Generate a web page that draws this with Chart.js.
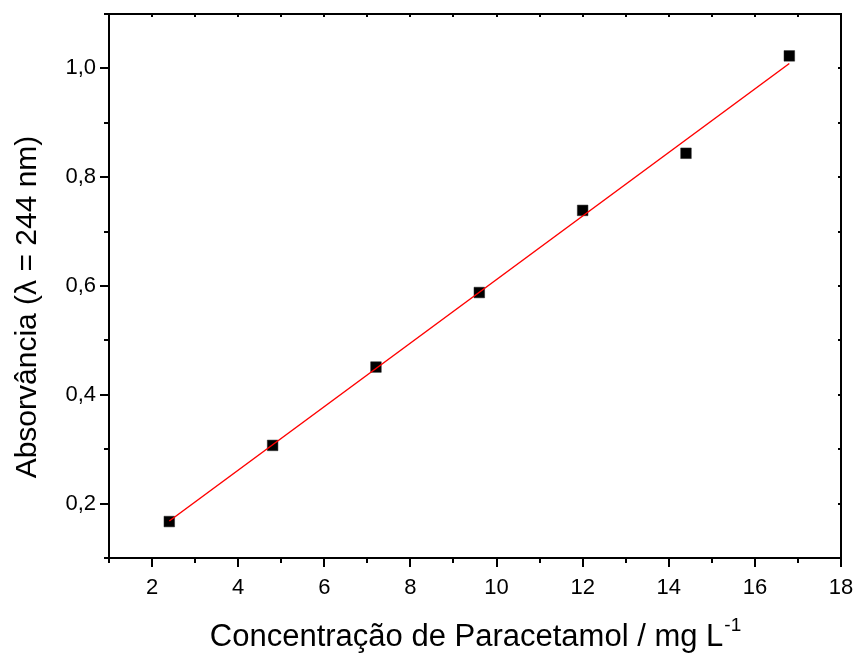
<!DOCTYPE html>
<html>
<head>
<meta charset="utf-8">
<script src="https://cdn.jsdelivr.net/npm/chart.js@4.4.1/dist/chart.umd.min.js"></script>
<style>
  html, body { margin: 0; padding: 0; background: #fff; }
  canvas { display: block; }
</style>
</head>
<body>
<canvas id="grafico" width="857" height="654"></canvas>
<script>
// Curva analítica do paracetamol: absorvância medida em 244 nm
const concentracao = [2.4, 4.8, 7.2, 9.6, 12.0, 14.4, 16.8];
const absorvancia = [0.167, 0.307, 0.451, 0.588, 0.739, 0.844, 1.023];

// Reta de regressão linear (extremos)
const ajusteX = [2.4, 16.8];
const ajusteY = [0.168, 1.009];

// Marcas dos eixos
const xTicks = [2, 4, 6, 8, 10, 12, 14, 16, 18];
const xMinor = [1, 3, 5, 7, 9, 11, 13, 15, 17];
const yTicks = [0.2, 0.4, 0.6, 0.8, 1.0];
const yMinor = [0.1, 0.3, 0.5, 0.7, 0.9, 1.1];

const FONT = '"Liberation Sans", Arial, sans-serif';

// Moldura, marcas principais/secundárias e títulos dos eixos
const molduraPlugin = {
  id: 'moldura',
  afterDraw(chart) {
    const ctx = chart.ctx;
    const { left, right, top, bottom } = chart.chartArea;
    const sx = chart.scales.x, sy = chart.scales.y;
    ctx.save();
    ctx.strokeStyle = '#000';
    ctx.lineWidth = 2;
    ctx.lineCap = 'butt';

    ctx.beginPath();
    ctx.rect(left, top, right - left, bottom - top);
    ctx.stroke();

    const seg = (x1, y1, x2, y2) => { ctx.moveTo(x1, y1); ctx.lineTo(x2, y2); };
    ctx.beginPath();
    xTicks.forEach(v => {
      const px = Math.round(sx.getPixelForValue(v));
      seg(px, bottom, px, bottom + 9);
      seg(px, top, px, top + 3);
    });
    xMinor.forEach(v => {
      const px = Math.round(sx.getPixelForValue(v));
      seg(px, bottom, px, bottom + 5);
      seg(px, top, px, top + 3);
    });
    yTicks.forEach(v => {
      const py = Math.round(sy.getPixelForValue(v));
      seg(left - 9, py, left, py);
      seg(right - 3, py, right, py);
    });
    yMinor.forEach(v => {
      const py = Math.round(sy.getPixelForValue(v));
      seg(left - 5, py, left, py);
      seg(right - 3, py, right, py);
    });
    ctx.stroke();

    ctx.fillStyle = '#000';
    // Título do eixo X com expoente
    const base = 'Concentração de Paracetamol / mg L';
    ctx.font = '31px ' + FONT;
    const wBase = ctx.measureText(base).width;
    ctx.font = '19px ' + FONT;
    const wSup = ctx.measureText('-1').width;
    const cx = (left + right) / 2;
    const x0 = cx - (wBase + wSup) / 2;
    ctx.textBaseline = 'alphabetic';
    ctx.textAlign = 'left';
    ctx.font = '31px ' + FONT;
    ctx.fillText(base, x0, 646);
    ctx.font = '19px ' + FONT;
    ctx.fillText('-1', x0 + wBase + 1, 631);

    // Título do eixo Y
    ctx.translate(36, 307);
    ctx.rotate(-Math.PI / 2);
    ctx.font = '30px ' + FONT;
    ctx.textAlign = 'center';
    ctx.fillText('Absorvância (λ = 244 nm)', 0, 0);
    ctx.restore();
  }
};

new Chart(document.getElementById('grafico'), {
  type: 'scatter',
  data: {
    datasets: [
      {
        type: 'line',
        label: 'Ajuste linear',
        data: ajusteX.map((x, i) => ({ x, y: ajusteY[i] })),
        borderColor: '#ff0000',
        borderWidth: 1.5,
        pointRadius: 0,
        fill: false,
        tension: 0
      },
      {
        label: 'Absorvância',
        data: concentracao.map((x, i) => ({ x, y: absorvancia[i] })),
        pointStyle: 'rect',
        pointRadius: 7.5,
        backgroundColor: '#000',
        borderColor: '#222',
        borderWidth: 0.5
      }
    ]
  },
  options: {
    responsive: false,
    animation: false,
    devicePixelRatio: 1,
    layout: { padding: { top: 14, right: 16, left: 0, bottom: 0 } },
    plugins: { legend: { display: false }, tooltip: { enabled: false } },
    scales: {
      x: {
        type: 'linear',
        min: 1,
        max: 18,
        afterBuildTicks: s => { s.ticks = xTicks.map(v => ({ value: v })); },
        afterFit: s => { s.height = 96; s.paddingLeft = 0; s.paddingRight = 0; },
        grid: { display: false, drawTicks: false },
        border: { display: false },
        ticks: {
          color: '#000',
          font: { family: FONT, size: 22 },
          padding: 17,
          maxRotation: 0,
          callback: v => String(v)
        }
      },
      y: {
        type: 'linear',
        min: 0.1,
        max: 1.1,
        afterBuildTicks: s => { s.ticks = yTicks.map(v => ({ value: v })); },
        afterFit: s => { s.width = 109; s.paddingTop = 0; s.paddingBottom = 0; },
        grid: { display: false, drawTicks: false },
        border: { display: false },
        ticks: {
          color: '#000',
          font: { family: FONT, size: 22 },
          padding: 13,
          callback: v => v.toFixed(1).replace('.', ',')
        }
      }
    }
  },
  plugins: [molduraPlugin]
});
</script>
</body>
</html>
